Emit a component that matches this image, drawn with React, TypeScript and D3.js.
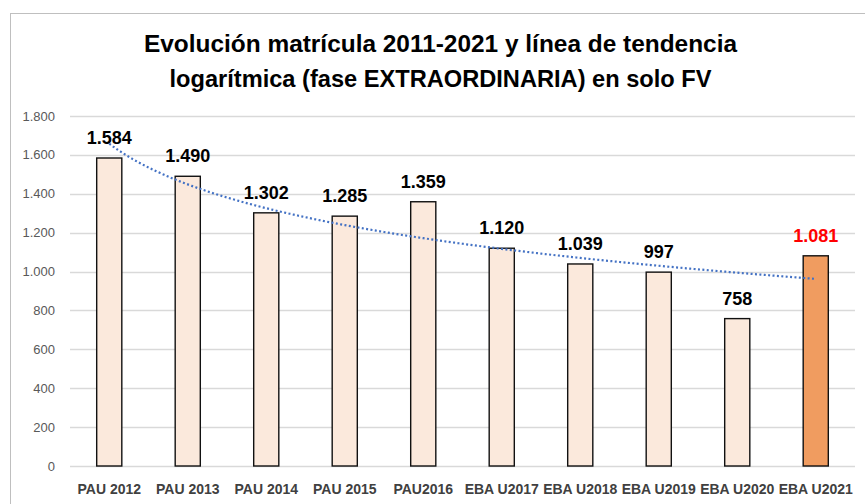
import * as d3 from "d3";
import { useEffect, useRef } from "react";

// data
const categories = [
  "PAU 2012", "PAU 2013", "PAU 2014", "PAU 2015", "PAU2016",
  "EBA U2017", "EBA U2018", "EBA U2019", "EBA U2020", "EBA U2021",
];
const values = [1584, 1490, 1302, 1285, 1359, 1120, 1039, 997, 758, 1081];
const yTicks = [0, 200, 400, 600, 800, 1000, 1200, 1400, 1600, 1800];
const titleLines = [
  "Evolución matrícula 2011-2021 y línea de tendencia",
  "logarítmica (fase EXTRAORDINARIA) en solo FV",
];

const W = 865;
const H = 504;
const font = "'Liberation Sans', Arial, sans-serif";

// thousands with a dot, like the spanish excel format
const fmt = (v: number) => d3.format(",")(v).replace(/,/g, ".");

const App = () => {
  const svgRef = useRef<SVGSVGElement>(null);

  useEffect(() => {
    const svg = d3.select(svgRef.current);
    svg.selectAll("*").remove();

    const left = 70;
    const right = 855;
    const top = 116;
    const bottom = 466;

    const x = d3.scaleBand().domain(categories).range([left, right]).paddingInner(0.68).paddingOuter(0.34);
    const y = d3.scaleLinear().domain([0, 1800]).range([bottom, top]);

    // chart border
    svg.append("rect")
      .attr("x", 10.5).attr("y", 13.5)
      .attr("width", 900).attr("height", 600)
      .attr("fill", "white").attr("stroke", "#BFBFBF").attr("stroke-width", 1);

    // title
    const titleLen = [593, 542];
    svg.append("g").selectAll("text")
      .data(titleLines)
      .join("text")
      .attr("x", 440.5)
      .attr("y", (d, i) => 52 + i * 35)
      .attr("text-anchor", "middle")
      .attr("font-family", font)
      .attr("font-weight", "bold")
      .attr("font-size", 24)
      .attr("fill", "#000")
      .attr("textLength", (d, i) => titleLen[i])
      .attr("lengthAdjust", "spacingAndGlyphs")
      .text((d) => d);

    // gridlines
    svg.append("g").selectAll("line")
      .data(yTicks)
      .join("line")
      .attr("x1", left).attr("x2", right)
      .attr("y1", (d) => Math.round(y(d)) + 0.5)
      .attr("y2", (d) => Math.round(y(d)) + 0.5)
      .attr("stroke", "#D9D9D9")
      .attr("stroke-width", 1.3);

    // y axis labels
    svg.append("g").selectAll("text")
      .data(yTicks)
      .join("text")
      .attr("x", 55)
      .attr("y", (d) => y(d) + 4.5)
      .attr("text-anchor", "end")
      .attr("font-family", font)
      .attr("font-size", 13)
      .attr("fill", "#595959")
      .text((d) => fmt(d));

    // bars
    const last = categories.length - 1;
    svg.append("g").selectAll("rect")
      .data(values)
      .join("rect")
      .attr("x", (d, i) => x(categories[i])!)
      .attr("y", (d) => y(d))
      .attr("width", x.bandwidth())
      .attr("height", (d) => y(0) - y(d))
      .attr("fill", (d, i) => (i === last ? "#F09C60" : "#FBE9DC"))
      .attr("stroke", "#111")
      .attr("stroke-width", 1.4);

    // logarithmic trend line (least squares on ln(i))
    const lx = values.map((d, i) => Math.log(i + 1));
    const mx = d3.mean(lx)!;
    const my = d3.mean(values)!;
    const b = d3.sum(lx, (l, i) => (l - mx) * (values[i] - my)) / d3.sum(lx, (l) => (l - mx) ** 2);
    const a = my - b * mx;
    const xi = d3.scaleLinear().domain([1, categories.length])
      .range([x(categories[0])! + x.bandwidth() / 2, x(categories[last])! + x.bandwidth() / 2]);
    const pts = d3.range(1, categories.length + 0.001, 0.05);
    const line = d3.line<number>().x((t) => xi(t)).y((t) => y(a + b * Math.log(t)));
    svg.append("path")
      .datum(pts)
      .attr("d", line)
      .attr("fill", "none")
      .attr("stroke", "#4472C4")
      .attr("stroke-width", 2.2)
      .attr("stroke-dasharray", "2 2.4");

    // value labels
    svg.append("g").selectAll("text")
      .data(values)
      .join("text")
      .attr("x", (d, i) => x(categories[i])! + x.bandwidth() / 2)
      .attr("y", (d) => y(d) - 14)
      .attr("text-anchor", "middle")
      .attr("font-family", font)
      .attr("font-weight", "bold")
      .attr("font-size", 18)
      .attr("fill", (d, i) => (i === last ? "#FF0000" : "#000"))
      .text((d) => fmt(d));

    // category labels
    svg.append("g").selectAll("text")
      .data(categories)
      .join("text")
      .attr("x", (d) => x(d)! + x.bandwidth() / 2)
      .attr("y", 494)
      .attr("text-anchor", "middle")
      .attr("font-family", font)
      .attr("font-weight", "bold")
      .attr("font-size", 14)
      .attr("fill", "#404040")
      .text((d) => d);
  }, []);

  return (
    <svg
      ref={svgRef}
      width={W}
      height={H}
      style={{ position: "absolute", left: 0, top: 0, background: "white" }}
    ></svg>
  );
};

export default App;
